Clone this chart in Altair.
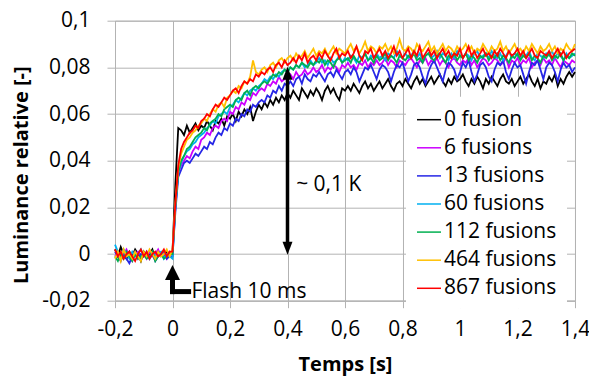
import altair as alt
import pandas as pd
import numpy as np

# sampling times (s): -0.2 .. 1.4 every 0.01 s
times = np.round(np.arange(161) * 0.01 - 0.2, 2)

labels = ["0 fusion", "6 fusions", "13 fusions", "60 fusions",
          "112 fusions", "464 fusions", "867 fusions"]
colors = ["#000000", "#CC00FF", "#2626E6", "#00B0F0", "#00B050", "#FFC000", "#FF0000"]

x_ticks = [-0.2, 0, 0.2, 0.4, 0.6, 0.8, 1.0, 1.2, 1.4]
y_ticks = [-0.02, 0, 0.02, 0.04, 0.06, 0.08, 0.1]

# luminance values in thousandths (x 1e-3); rows: -0.20..-0.11, -0.10..-0.01, 0.00, then 0.1 s per row
s_0 = [2, -1, 3, 0, -2, 1, -1, 2, 0, -3,
       1, -1, 0, 2, -2, 1, 0, -1, 1, 0,
       1,
       30, 54, 53, 51, 55, 52, 54, 56, 53, 55,
       54, 57, 55, 53, 57, 56, 58, 55, 59, 58,
       60, 57, 61, 59, 62, 60, 63, 57, 61, 64,
       62, 65, 63, 66, 64, 67, 65, 68, 66, 69,
       67, 70, 68, 66, 71, 69, 67, 70, 68, 71,
       69, 66, 70, 72, 69, 71, 68, 66, 71, 70,
       72, 70, 73, 71, 69, 72, 74, 71, 73, 70,
       72, 74, 71, 73, 75, 72, 70, 73, 74, 72,
       75, 73, 71, 74, 76, 73, 75, 72, 74, 76,
       73, 75, 77, 74, 72, 75, 73, 76, 74, 75,
       77, 74, 72, 75, 73, 76, 74, 71, 75, 73,
       76, 74, 72, 75, 77, 74, 73, 75, 72, 74,
       76, 73, 75, 77, 74, 72, 75, 71, 74, 73,
       76, 74, 77, 72, 75, 73, 76, 78, 76, 78]
s_6 = [-1, 1, -2, 0, 2, -1, -3, 0, 1, -1,
       0, -2, 1, -1, 0, 2, -1, 0, -2, 1,
       0,
       20, 35, 38, 40, 42, 41, 44, 46, 45, 49,
       50, 52, 51, 54, 55, 54, 57, 58, 57, 61,
       60, 63, 62, 65, 64, 67, 66, 69, 68, 70,
       71, 70, 73, 72, 74, 73, 76, 74, 75, 76,
       77, 75, 78, 76, 77, 79, 77, 78, 80, 78,
       79, 81, 78, 80, 79, 81, 80, 78, 81, 80,
       82, 80, 81, 79, 82, 81, 83, 80, 82, 81,
       83, 81, 82, 84, 81, 83, 82, 80, 83, 82,
       81, 83, 84, 82, 80, 83, 82, 84, 81, 83,
       82, 84, 81, 83, 82, 80, 83, 84, 82, 81,
       83, 82, 84, 81, 83, 80, 82, 84, 83, 81,
       82, 84, 83, 81, 82, 84, 80, 83, 82, 84,
       81, 83, 82, 84, 80, 82, 83, 81, 84, 82,
       83, 81, 84, 82, 80, 83, 82, 81, 83, 82]
s_13 = [1, -1, -3, 0, -2, -4, -1, 1, -2, 0,
        -1, 1, -2, 0, -3, -1, 0, 1, -2, -1,
        -1,
        18, 33, 36, 39, 40, 39, 41, 43, 42, 44,
        46, 45, 48, 47, 50, 52, 51, 54, 53, 56,
        55, 58, 57, 60, 59, 62, 61, 64, 63, 65,
        66, 65, 68, 67, 70, 69, 72, 70, 73, 72,
        74, 72, 75, 76, 73, 77, 75, 74, 77, 76,
        78, 76, 74, 77, 78, 76, 79, 77, 75, 78,
        79, 77, 80, 78, 74, 77, 80, 79, 81, 78,
        75, 79, 81, 80, 78, 74, 78, 81, 80, 82,
        78, 74, 77, 81, 82, 80, 76, 73, 78, 81,
        83, 80, 77, 74, 79, 82, 81, 79, 75, 78,
        82, 80, 83, 78, 74, 77, 81, 82, 80, 76,
        74, 79, 82, 81, 83, 78, 75, 79, 82, 80,
        81, 77, 73, 78, 82, 81, 83, 79, 75, 80,
        82, 81, 78, 74, 79, 82, 80, 81, 78, 80]
s_60 = [4, 1, -1, 2, 0, -2, 1, -1, 0, 2,
        -1, 0, -2, 1, -1, 0, 1, -2, 0, -1,
        -2,
        20, 35, 39, 42, 44, 45, 47, 48, 50, 51,
        52, 54, 55, 57, 56, 59, 60, 61, 60, 63,
        64, 66, 65, 67, 69, 68, 70, 71, 70, 72,
        73, 75, 74, 76, 75, 77, 76, 78, 79, 78,
        80, 79, 81, 80, 82, 80, 81, 83, 81, 82,
        84, 82, 83, 81, 84, 82, 83, 85, 82, 84,
        83, 85, 84, 82, 85, 84, 86, 83, 85, 84,
        86, 84, 85, 83, 86, 85, 84, 87, 85, 84,
        86, 84, 85, 87, 84, 86, 83, 85, 86, 84,
        85, 87, 84, 86, 85, 83, 86, 84, 87, 85,
        84, 86, 85, 83, 86, 87, 84, 85, 86, 84,
        87, 85, 84, 86, 83, 85, 87, 84, 86, 85,
        84, 86, 85, 87, 84, 83, 86, 85, 84, 86,
        85, 87, 84, 86, 85, 83, 86, 84, 85, 86]
s_112 = [-1, -3, 0, -2, 1, -1, -3, 0, -2, -1,
         0, -2, -1, 1, -3, -1, 0, -2, -1, 0,
         0,
         21, 35, 40, 42, 45, 46, 48, 50, 51, 52,
         54, 53, 56, 57, 58, 60, 59, 62, 63, 64,
         63, 66, 67, 66, 69, 70, 68, 71, 72, 71,
         73, 74, 73, 75, 77, 76, 78, 77, 79, 78,
         80, 79, 81, 80, 82, 81, 80, 82, 81, 83,
         82, 84, 81, 83, 82, 80, 83, 84, 82, 83,
         84, 82, 85, 83, 82, 84, 86, 83, 84, 82,
         85, 83, 84, 86, 83, 85, 84, 82, 85, 84,
         83, 85, 84, 86, 83, 84, 82, 85, 86, 84,
         83, 85, 86, 84, 82, 85, 84, 86, 83, 85,
         84, 86, 83, 85, 84, 82, 85, 84, 86, 83,
         85, 84, 86, 83, 85, 84, 82, 85, 84, 86,
         83, 85, 84, 86, 83, 85, 84, 82, 85, 84,
         86, 83, 85, 84, 86, 83, 85, 84, 86, 85]
s_464 = [-2, 1, -3, 2, -1, 0, -2, 1, -1, -3,
         1, -1, 2, 0, -2, 1, -1, 0, 2, -1,
         2,
         22, 37, 43, 46, 49, 50, 52, 53, 55, 56,
         58, 57, 60, 62, 61, 64, 65, 63, 67, 68,
         70, 69, 72, 71, 74, 73, 76, 83, 78, 77,
         79, 80, 78, 81, 82, 80, 83, 84, 82, 84,
         85, 83, 86, 84, 85, 87, 84, 86, 88, 85,
         87, 86, 88, 85, 87, 89, 86, 88, 87, 86,
         88, 90, 87, 89, 86, 88, 91, 87, 89, 88,
         86, 89, 88, 90, 87, 89, 86, 88, 92, 88,
         87, 89, 88, 86, 90, 88, 87, 89, 91, 87,
         89, 86, 88, 90, 87, 89, 88, 86, 89, 87,
         88, 90, 87, 89, 86, 88, 87, 90, 88, 86,
         89, 87, 88, 91, 87, 89, 86, 88, 90, 87,
         88, 86, 89, 87, 90, 88, 86, 89, 87, 88,
         90, 87, 89, 86, 88, 87, 90, 88, 87, 90]
s_867 = [2, -1, 1, -2, 0, 1, -1, -3, 0, 2,
         -1, 1, -2, 0, 1, -1, 0, 2, -1, 1,
         1,
         22, 38, 45, 48, 50, 52, 53, 55, 54, 57,
         58, 60, 59, 62, 64, 63, 65, 67, 66, 68,
         70, 71, 69, 72, 74, 73, 75, 74, 77, 76,
         78, 77, 79, 80, 78, 81, 82, 80, 83, 81,
         82, 84, 82, 85, 83, 86, 82, 84, 85, 83,
         86, 84, 87, 85, 83, 86, 88, 84, 86, 85,
         87, 84, 86, 89, 85, 83, 87, 86, 88, 84,
         86, 88, 85, 87, 84, 86, 89, 85, 87, 84,
         86, 88, 84, 87, 85, 89, 84, 86, 88, 85,
         87, 84, 86, 88, 85, 87, 84, 86, 85, 88,
         84, 86, 89, 85, 87, 84, 86, 88, 85, 86,
         84, 87, 85, 88, 86, 84, 87, 85, 86, 88,
         85, 87, 84, 86, 88, 85, 84, 87, 86, 85,
         87, 84, 86, 88, 85, 87, 84, 86, 87, 88]

series = [s_0, s_6, s_13, s_60, s_112, s_464, s_867]

rows = []
for lab, vals in zip(labels, series):
    for t, v in zip(times, vals):
        rows.append({"t": float(t), "v": v / 1000.0, "s": lab})
df = pd.DataFrame(rows)

FONT = "Open Sans"
W = 460

x_enc = alt.X("t:Q",
              scale=alt.Scale(domain=[-0.2, 1.4], nice=False, zero=False),
              axis=alt.Axis(values=x_ticks, title="Temps [s]",
                            labelExpr="replace(toString(round(datum.value*100)/100), '.', ',')",
                            labelPadding=11, tickSize=7, labelFlush=False,
                            titleX=W / 2, titleY=70, titleBaseline="alphabetic"))
y_enc = alt.Y("v:Q",
              scale=alt.Scale(domain=[-0.02, 0.1], nice=False, zero=False),
              axis=alt.Axis(values=y_ticks, title="Luminance relative [-]",
                            labelExpr="replace(toString(round(datum.value*1000)/1000), '.', ',')",
                            labelPadding=17, tickSize=8, labelFlush=False,
                            titleX=-88, titleY=154, titleAngle=270,
                            titleAlign="center", titleBaseline="alphabetic"))

legend = alt.Legend(title=None, orient="none", legendX=291, legendY=76,
                    symbolType="stroke", symbolSize=576, symbolStrokeWidth=1.5,
                    labelFontSize=21, labelFont=FONT, labelOffset=2,
                    rowPadding=5.1, padding=10, fillColor="white", labelLimit=300)
color_enc = alt.Color("s:N", scale=alt.Scale(domain=labels, range=colors), legend=legend)

layers = []
for lab in labels:
    layers.append(
        alt.Chart(df[df.s == lab]).mark_line(strokeWidth=1.8).encode(
            x=x_enc, y=y_enc, color=color_enc)
    )

# annotation: double arrow at t = 0.4
arrow_df = pd.DataFrame({"t": [0.4], "v": [0.004], "v2": [0.076]})
arrow_line = alt.Chart(arrow_df).mark_rule(color="black", strokeWidth=3.5).encode(
    x=x_enc, y=y_enc, y2="v2:Q")
heads_df = pd.DataFrame({"t": [0.4], "v": [0.0803]})
head_up = alt.Chart(heads_df).mark_point(
    shape="M0,0L-0.5,1.3L0.5,1.3Z", filled=True, size=400, color="black", opacity=1,
    strokeWidth=0).encode(x=x_enc, y=y_enc)
headd_df = pd.DataFrame({"t": [0.4], "v": [-0.0003]})
head_down = alt.Chart(headd_df).mark_point(
    shape="M0,0L-0.5,-1.3L0.5,-1.3Z", filled=True, size=400, color="black", opacity=1,
    strokeWidth=0).encode(x=x_enc, y=y_enc)

# flash arrow
flash_head_df = pd.DataFrame({"t": [0.0], "v": [-0.0047]})
flash_head = alt.Chart(flash_head_df).mark_point(
    shape="M0,0L-0.75,1.5L0.75,1.5Z", filled=True, size=400, color="black", opacity=1,
    strokeWidth=0).encode(x=x_enc, y=y_enc)
flash_v_df = pd.DataFrame({"t": [0.0], "v": [-0.0105], "v2": [-0.0161]})
flash_v = alt.Chart(flash_v_df).mark_rule(color="black", strokeWidth=5, strokeCap="square").encode(
    x=x_enc, y=y_enc, y2="v2:Q")
flash_h_df = pd.DataFrame({"t": [0.0], "t2": [0.056], "v": [-0.0161]})
flash_h = alt.Chart(flash_h_df).mark_rule(color="black", strokeWidth=5, strokeCap="square").encode(
    x=x_enc, x2="t2:Q", y=y_enc)

texts_df = pd.DataFrame({"t": [0.066, 0.43], "v": [-0.0188, 0.0271],
                         "label": ["Flash 10 ms", "~ 0,1 K"]})
texts = alt.Chart(texts_df).mark_text(align="left", baseline="alphabetic", fontSize=21,
                                      font=FONT, color="black").encode(
    x=x_enc, y=y_enc, text="label:N")

chart = alt.layer(*layers, arrow_line, head_up, head_down, flash_head, flash_v, flash_h, texts).properties(
    width=W, height=280,
    autosize=alt.AutoSizeParams(type="none"),
    padding={"left": 107, "top": 12.7, "right": 14, "bottom": 77},
    background="white",
).configure_axis(
    gridColor="#b3b3b3", gridWidth=1, domainColor="#b3b3b3", tickColor="#b3b3b3",
    labelFont=FONT, labelFontSize=21, labelColor="#000000",
    titleFont=FONT, titleFontSize=20, titleFontWeight="bold", titleColor="#000000",
).configure_view(stroke="#b3b3b3")

chart.save("out.html", embed_options={"renderer": "svg", "actions": False})
